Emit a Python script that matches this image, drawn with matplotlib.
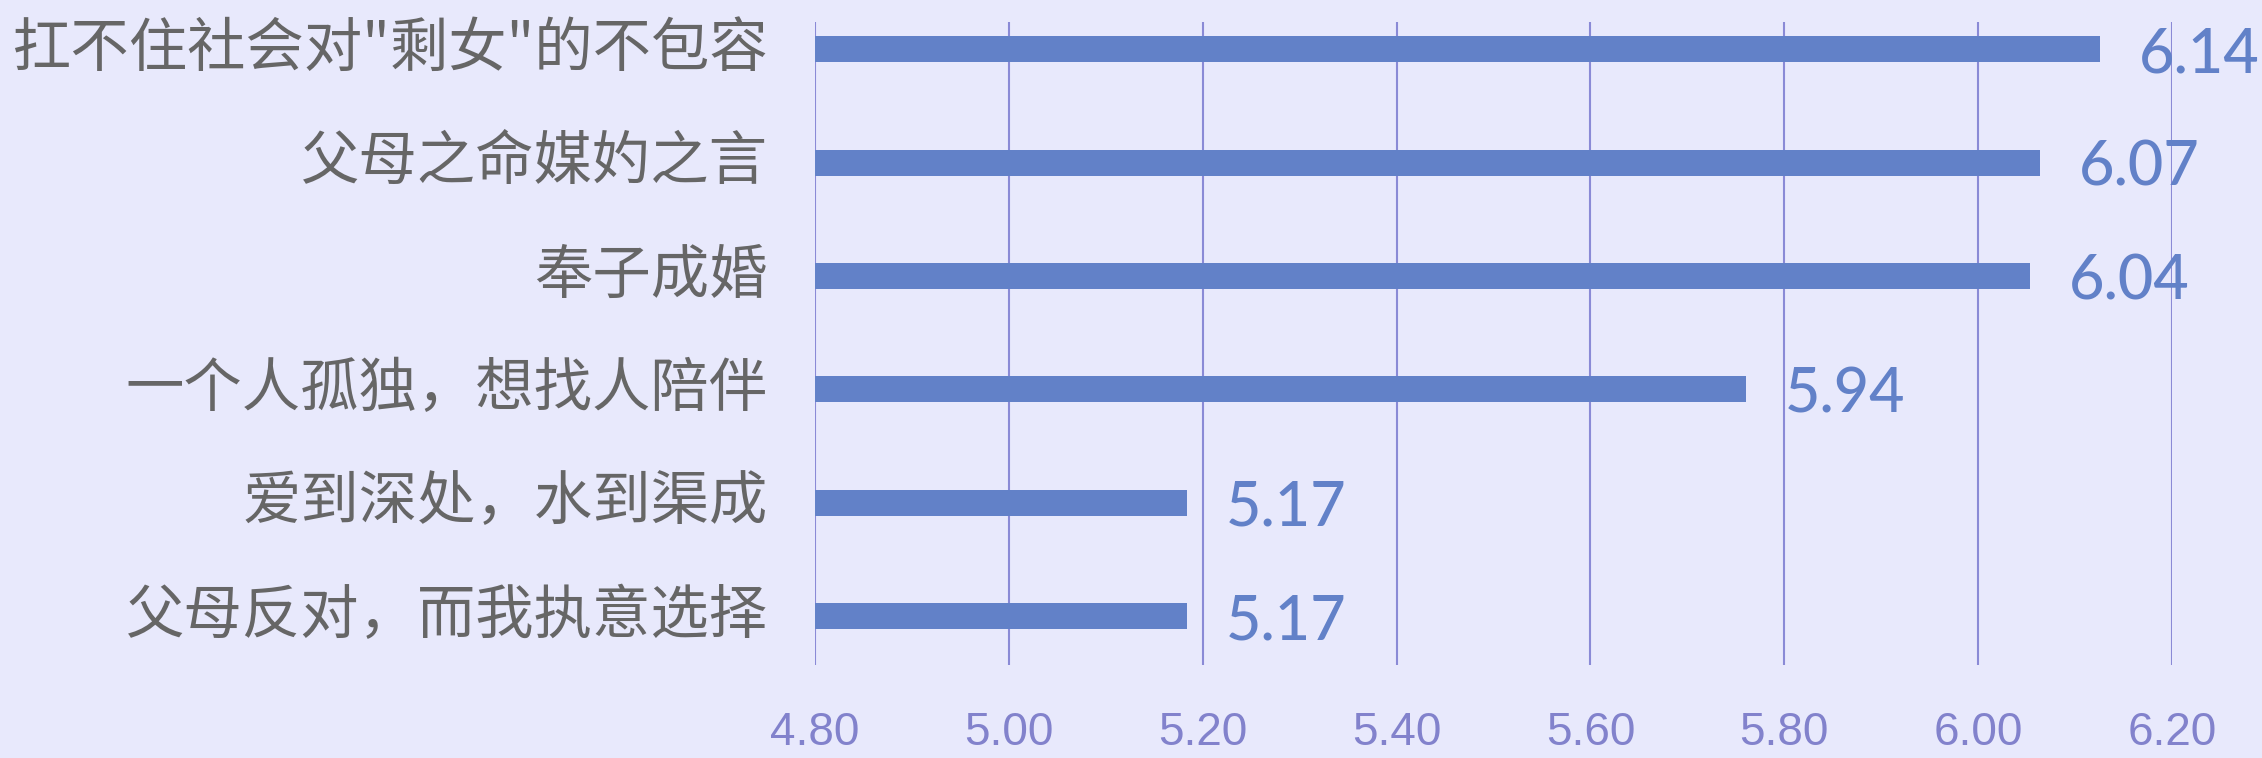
import matplotlib
matplotlib.use('Agg')
import matplotlib.pyplot as plt
from matplotlib import font_manager

categories = ["扛不住社会对\"剩女\"的不包容", "父母之命媒妁之言", "奉子成婚",
              "一个人孤独，想找人陪伴", "爱到深处，水到渠成", "父母反对，而我执意选择"]
bar_values = [6.126, 6.064, 6.053, 5.760, 5.184, 5.184]
value_labels = ["6.14", "6.07", "6.04", "5.94", "5.17", "5.17"]
x_ticks = [4.80, 5.00, 5.20, 5.40, 5.60, 5.80, 6.00, 6.20]
x_tick_labels = ["4.80", "5.00", "5.20", "5.40", "5.60", "5.80", "6.00", "6.20"]
base = 4.80

BG = "#E8E9FC"
BAR = "#6281C8"
GRID = "#8A8AD6"
TICK = "#8282CC"
CAT = "#666666"

names = {f.name for f in font_manager.fontManager.ttflist}
tick_fam = ['Liberation Sans Narrow'] if 'Liberation Sans Narrow' in names else ['Liberation Sans']

fig = plt.figure(figsize=(22.62, 7.58), dpi=100, facecolor=BG)
ax = fig.add_axes([815/2262, 1-665/758, (2172-815)/2262, (665-22)/758])
ax.set_facecolor(BG)

ypos = list(range(len(categories)))
ax.barh(ypos, [v - base for v in bar_values], left=base, height=0.23,
        color=BAR, zorder=3)

for y, v, lab in zip(ypos, bar_values, value_labels):
    ax.annotate(lab, xy=(v, y), xytext=(28, 0), textcoords='offset points',
                va='center_baseline', ha='left', fontsize=44, color=BAR,
                family=['Lato', 'DejaVu Sans'], fontweight='medium', zorder=4)

ax.set_xlim(4.80, 6.20)
ax.set_ylim(5.43, -0.24)
ax.set_xticks(x_ticks)
ax.set_xticklabels(x_tick_labels, family=tick_fam + ['DejaVu Sans'],
                   fontsize=33, color=TICK)
ax.set_yticks(ypos)
ax.set_yticklabels(categories, family=['Noto Sans CJK SC', 'DejaVu Sans'],
                   fontsize=42, color=CAT)
for t in ax.get_yticklabels():
    t.set_verticalalignment('center')
ax.tick_params(axis='x', length=0, pad=33)
ax.tick_params(axis='y', length=0, pad=34)
ax.grid(axis='x', color=GRID, linewidth=1.5, zorder=1)
ax.grid(axis='y', visible=False)
for s in ax.spines.values():
    s.set_visible(False)

fig.savefig('out.png', dpi=100, facecolor=BG)
